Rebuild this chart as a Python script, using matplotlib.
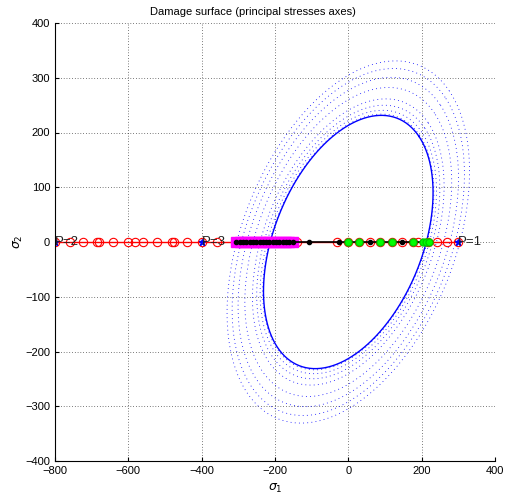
import numpy as np
import matplotlib
matplotlib.use('Agg')
import matplotlib.pyplot as plt

plt.rcParams['font.family'] = ['Liberation Sans', 'DejaVu Sans']
plt.rcParams['mathtext.fontset'] = 'dejavusans'

### data
# damage surface: s1^2 + s2^2 - 2*a*s1*s2 = k^2
surf_k = 213.0
surf_a = 0.39
dotted_scales = [1.01, 1.04, 1.08, 1.13, 1.22, 1.30, 1.37, 1.43]

# stress path points along sigma2 = 0
red_x = [-800, -759, -723, -686, -679, -641, -602, -582, -561, -523, -482,
         -475, -441, -400, -359, -140, -31, 0, 29, 59, 86, 119, 146, 177,
         190, 217, 242, 269, 300]
magenta_x = [-305, -296, -287, -278, -269, -260, -251, -242, -233, -224,
             -215, -206, -197, -188, -179, -170, -161, -152]
black_x = [-305, -296, -287, -278, -269, -260, -251, -242, -233, -224,
           -215, -206, -197, -188, -179, -170, -161, -152, -107, -25, 59,
           146, 217]
green_x = [0, 29, 86, 119, 177, 205, 213, 221]
blue_x = [-800, -400, 300]
blue_labels = ['P=2', 'P=3', 'P=1']

xticks = [-800, -600, -400, -200, 0, 200, 400]
yticks = [-400, -300, -200, -100, 0, 100, 200, 300, 400]


def surface(k, a):
    t = np.linspace(0, 2*np.pi, 400)
    u = k/np.sqrt(1-a)*np.cos(t)
    v = k/np.sqrt(1+a)*np.sin(t)
    return (u - v)/np.sqrt(2), (u + v)/np.sqrt(2)


### figure
fig = plt.figure(figsize=(5.05, 5.0), dpi=100)
ax = fig.add_axes([0.109, 0.078, 0.871, 0.876])

for sc in dotted_scales:
    s1, s2 = surface(surf_k*sc, surf_a)
    ax.plot(s1, s2, color='#0000ff', linewidth=0.6, dashes=(1, 4))
s1, s2 = surface(surf_k, surf_a)
ax.plot(s1, s2, color='#0000ff', linewidth=1.0)

ax.plot(red_x, np.zeros(len(red_x)), color='r', linewidth=1.0, marker='o',
        markersize=6, markerfacecolor='none', markeredgewidth=0.8)
ax.plot(magenta_x, np.zeros(len(magenta_x)), linestyle='none', marker='s',
        markersize=7, color='#ff00ff')
ax.plot(black_x, np.zeros(len(black_x)), color='k', linewidth=1.2,
        marker='.', markersize=6)
ax.plot(green_x, np.zeros(len(green_x)), linestyle='none', marker='o',
        markersize=5, color='#00ff00', markeredgecolor='#00cc00')
ax.plot(blue_x, np.zeros(len(blue_x)), linestyle='none', marker='*',
        markersize=5, color='#0000ff')
for x, lab in zip(blue_x, blue_labels):
    ax.text(x, 0, lab, fontsize=9.5, color='#202020', ha='left', va='center')

ax.set_xlim(-800, 400)
ax.set_ylim(-400, 400)
ax.set_xticks(xticks)
ax.set_yticks(yticks)
ax.tick_params(direction='in', length=3, labelsize=8, width=0.8)
for sp in ['top', 'right']:
    ax.spines[sp].set_visible(False)
ax.grid(True, color='k', linewidth=0.5, dashes=(1, 3))

ax.set_xlabel(r'$\sigma_1$', fontsize=9)
ax.set_ylabel(r'$\sigma_2$', fontsize=9, labelpad=0)
fig.text(0.5, 1 - 12/500, 'Damage surface (principal stresses axes)',
         fontsize=8, ha='center', va='center')

fig.savefig('out.png', dpi=100)
